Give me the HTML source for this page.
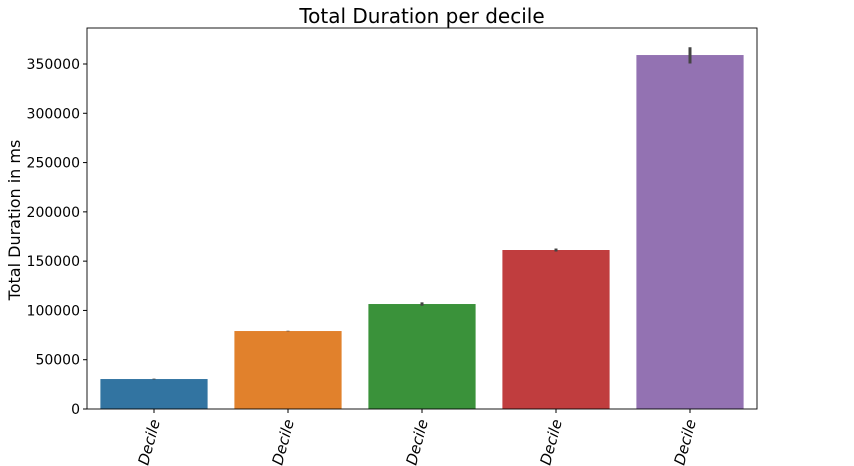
<!DOCTYPE html>
<html><head><meta charset="utf-8"><style>
html,body{margin:0;background:#fff;width:854px;height:466px;overflow:hidden;}
svg{display:block;font-family:"DejaVu Sans","Liberation Sans",sans-serif;}
</style></head><body>
<svg id="chart" width="854" height="466">
<text x="422" y="23" font-size="20" text-anchor="middle" fill="#000">Total Duration per decile</text>
<text transform="translate(20,220) rotate(-90)" font-size="16" text-anchor="middle">Total Duration in ms</text>
<g id="marks"></g>
<rect x="87" y="28" width="670" height="381" fill="none" stroke="#000" stroke-width="0.9"/>
</svg>
<script>
const categories=["1st Decile","2nd Decile","3rd Decile","4th Decile","5th Decile"];
const values=[30400,79100,106500,161300,359100];
const errLow=[30000,78800,104800,159800,350500];
const errHigh=[30800,79400,108200,162800,367000];
const colors=["#3274a1","#e1812c","#3a923a","#c03d3e","#9372b2"];
const yTicks=[0,50000,100000,150000,200000,250000,300000,350000];
const L=87,R=757,T=28,B=409;
const y=v=>B-v*(B-64)/350000;
const band=(R-L)/categories.length;
const xc=i=>L+band*(i+0.5);
const NS="http://www.w3.org/2000/svg";
const g=document.getElementById('marks');
function mk(t,a){const e=document.createElementNS(NS,t);for(const k in a)e.setAttribute(k,a[k]);g.appendChild(e);return e;}
yTicks.forEach(v=>{
  const t=mk('line',{x1:L-4,x2:L,y1:y(v),y2:y(v),stroke:'#000'});
  
  
  const l=mk('text',{x:L-7,y:y(v)+5,'font-size':14,'text-anchor':'end'});
  l.textContent=v;
  
  
});
categories.forEach((c,i)=>{
  const w=band*0.8;
  const b=mk('rect',{x:xc(i)-w/2,y:y(values[i]),width:w,height:B-y(values[i]),fill:colors[i]});
  
  
  const e=mk('line',{x1:xc(i),x2:xc(i),y1:y(errLow[i]),y2:y(errHigh[i]),stroke:'#444','stroke-width':3});
  
  
  const t=mk('line',{x1:xc(i),x2:xc(i),y1:B,y2:B+4,stroke:'#000'});
  
  
  const l=mk('text',{transform:`translate(${xc(i)+6},${B+12}) rotate(-75)`,'font-size':15,'text-anchor':'end','font-style':'italic'});
  l.textContent=c;
  
  
});
</script>
</body></html>
